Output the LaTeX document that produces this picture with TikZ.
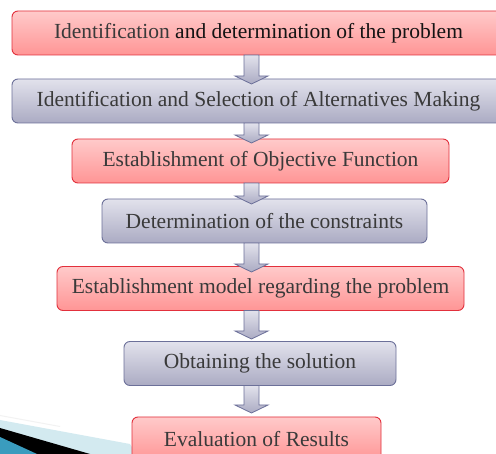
\documentclass[tikz,border=0pt]{standalone}
\usepackage{fontspec}
\setmainfont{Liberation Serif}
\usetikzlibrary{calc}
\definecolor{redtop}{HTML}{FFCACA}
\definecolor{redbot}{HTML}{FF9595}
\definecolor{redline}{HTML}{E2303C}
\definecolor{graytop}{HTML}{E2E2EC}
\definecolor{graybot}{HTML}{ABABC3}
\definecolor{grayline}{HTML}{6C7099}
\definecolor{txt}{HTML}{3A3A3A}
\definecolor{swlight}{HTML}{D3EAF0}
\definecolor{swteal}{HTML}{3A9CBE}
\tikzset{
  x=1pt, y=1pt,
  stepbase/.style={rounded corners=6pt, line width=0.9pt, inner sep=0pt,
    minimum height=44pt, text=txt, font=\fontsize{21.5}{24}\selectfont},
  redbox/.style={stepbase, draw=redline, top color=redtop, bottom color=redbot},
  graybox/.style={stepbase, draw=grayline, top color=graytop, bottom color=graybot},
  arr/.style={draw=grayline, line width=0.8pt, top color=graytop, bottom color=graybot, line join=miter},
}
\newcommand{\flowarrow}[2]{%
  \path[arr] let \p1=(#1.south -| #2), \p2=(#2) in
    (\x1-7.5pt,\y1+0.5pt) -- (\x1-7.5pt,\y2+8pt) -- (\x1-16.5pt,\y2+8pt) -- (\p2)
    -- (\x1+16.5pt,\y2+8pt) -- (\x1+7.5pt,\y2+8pt) -- (\x1+7.5pt,\y1+0.5pt) -- cycle;}
\begin{document}
\begin{tikzpicture}
\useasboundingbox (0,0) rectangle (496,-454);
\clip (0,0) rectangle (496,-454);
\fill[white] (0,0) rectangle (496,-454);
% decorative swoosh
\fill[black!5] (0,-415) -- (60,-426) -- (60,-427) -- (0,-416) -- cycle;
\fill[swlight] (0,-420) -- (130,-444) -- (136,-454) -- (0,-454) -- cycle;
\fill[black] (0,-428) -- (90,-454) -- (0,-454) -- cycle;
\fill[swteal] (0,-437) -- (37,-454) -- (0,-454) -- cycle;
% boxes
\node[redbox, minimum width=493pt] (b1) at (258.5,-33)
  {Identification \textcolor{black!92}{and determination of the problem}};
\node[graybox, minimum width=493pt] (b2) at (258.5,-101)
  {Identification and Selection of Alternatives Making};
\node[redbox, minimum width=377pt] (b3) at (260.5,-161) {Establishment of Objective Function};
\node[graybox, minimum width=325pt] (b4) at (264.5,-221) {Determination of the constraints};
\node[redbox, minimum width=407pt] (b5) at (260.5,-288.5) {Establishment model regarding the problem};
\node[graybox, minimum width=272pt] (b6) at (260,-363.5) {Obtaining the solution};
\node[redbox, minimum width=249pt] (b7) at (256.5,-439) {Evaluation of Results};
% arrow tips
\coordinate (t1) at (251.5,-84);
\coordinate (t2) at (251.5,-143);
\coordinate (t3) at (251.5,-204);
\coordinate (t4) at (251.5,-272);
\coordinate (t5) at (251.5,-339);
\coordinate (t6) at (251.5,-413);
\flowarrow{b1}{t1}
\flowarrow{b2}{t2}
\flowarrow{b3}{t3}
\flowarrow{b4}{t4}
\flowarrow{b5}{t5}
\flowarrow{b6}{t6}
\end{tikzpicture}
\end{document}
